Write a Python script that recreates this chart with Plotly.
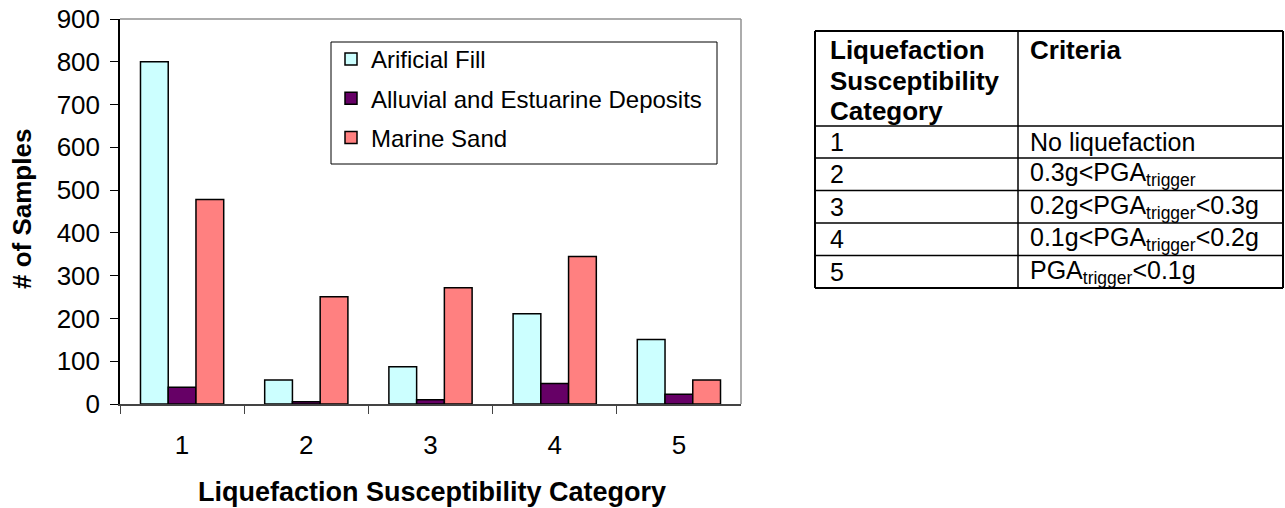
import plotly.graph_objects as go

# Sample counts per liquefaction susceptibility category
categories = ["1", "2", "3", "4", "5"]
artificial_fill = [800, 56, 87, 211, 151]
alluvial_estuarine = [39, 5, 10, 48, 23]
marine_sand = [478, 251, 272, 345, 56]

series_names = ["Arificial Fill", "Alluvial and Estuarine Deposits", "Marine Sand"]
series_colors = ["#CCFFFF", "#660066", "#FF8080"]

y_ticks = list(range(0, 1000, 100))

# Criteria table
table_header = [["Liquefaction", "Susceptibility", "Category"], ["Criteria"]]
table_category = ["1", "2", "3", "4", "5"]
table_criteria = [
    "No liquefaction",
    "0.3g&lt;PGA<sub>trigger</sub>",
    "0.2g&lt;PGA<sub>trigger</sub>&lt;0.3g",
    "0.1g&lt;PGA<sub>trigger</sub>&lt;0.2g",
    "PGA<sub>trigger</sub>&lt;0.1g",
]

W, H = 1285, 508
FONT = "Liberation Sans, Arial, sans-serif"


def px(x):
    return x / W


def py(y):
    return 1 - y / H


fig = go.Figure()
for name, vals, col in zip(series_names, [artificial_fill, alluvial_estuarine, marine_sand], series_colors):
    fig.add_trace(go.Bar(
        x=categories, y=vals, name=name, legendgroup=name,
        marker=dict(color=col, line=dict(color="black", width=1.5)),
    ))

x0, x1 = px(120), px(741)
y0, y1 = py(404), py(19)

shapes = [
    # grey frame on the open sides of the plot area
    dict(type="line", xref="paper", yref="paper", x0=x0, x1=x1, y0=y1, y1=y1,
         line=dict(color="#909090", width=1.5)),
    dict(type="line", xref="paper", yref="paper", x0=x1, x1=x1, y0=y0, y1=y1,
         line=dict(color="#909090", width=1.5)),
    # legend frame
    dict(type="rect", xref="paper", yref="paper", x0=px(331), x1=px(717), y0=py(164), y1=py(42),
         line=dict(color="black", width=1), fillcolor="white", layer="below"),
]
annotations = [
    dict(text="<b>Liquefaction Susceptibility Category</b>", xref="paper", yref="paper",
         x=px(432), y=py(492), xanchor="center", yanchor="middle",
         showarrow=False, font=dict(size=27)),
    dict(text="<b># of Samples</b>", xref="paper", yref="paper",
         x=px(22), y=py(209), xanchor="center", yanchor="middle",
         textangle=-90, showarrow=False, font=dict(size=26)),
]

# Table grid
col_edges = [815, 1018, 1283]
row_edges = [31, 126, 158, 190.5, 223, 255.5, 288]
for i, xe in enumerate(col_edges):
    w = 2 if i in (0, len(col_edges) - 1) else 1.5
    shapes.append(dict(type="line", xref="paper", yref="paper",
                       x0=px(xe), x1=px(xe), y0=py(row_edges[0]), y1=py(row_edges[-1]),
                       line=dict(color="black", width=w)))
for i, ye in enumerate(row_edges):
    w = 2 if i in (0, len(row_edges) - 1) else 1.5
    shapes.append(dict(type="line", xref="paper", yref="paper",
                       x0=px(col_edges[0]), x1=px(col_edges[-1]), y0=py(ye), y1=py(ye),
                       line=dict(color="black", width=w)))

# Table text
text_left = [828, 1028]
header_line_y = [50, 81, 111]
for c, lines in enumerate(table_header):
    for k, line in enumerate(lines):
        annotations.append(dict(text=f"<b>{line}</b>", xref="paper", yref="paper",
                                x=px(text_left[c]), y=py(header_line_y[k]),
                                xanchor="left", yanchor="middle", showarrow=False,
                                font=dict(size=26)))
for r in range(len(table_category)):
    yc = (row_edges[r + 1] + row_edges[r + 2]) / 2
    for c, val in enumerate([table_category[r], table_criteria[r]]):
        annotations.append(dict(text=val, xref="paper", yref="paper",
                                x=px(text_left[c]), y=py(yc),
                                xanchor="left", yanchor="middle", showarrow=False,
                                font=dict(size=25)))

fig.update_layout(
    width=W, height=H,
    margin=dict(l=0, r=0, t=0, b=0),
    paper_bgcolor="white", plot_bgcolor="white",
    font=dict(family=FONT, color="black"),
    barmode="group", bargap=0.33, bargroupgap=0,
    showlegend=True,
    legend=dict(
        x=px(331), y=py(37), xanchor="left", yanchor="top",
        borderwidth=0, bgcolor="rgba(0,0,0,0)",
        font=dict(family=FONT, size=24, color="black"),
        traceorder="grouped", tracegroupgap=5,
    ),
    xaxis=dict(
        domain=[x0, x1], type="category", automargin=False,
        showline=True, linecolor="#444", linewidth=1.5,
        ticks="outside", tickson="boundaries", ticklen=8, tickcolor="#444",
        tickfont=dict(size=26), ticklabelstandoff=17,
        showgrid=False, zeroline=False,
    ),
    yaxis=dict(
        domain=[y0, y1], range=[0, 900], automargin=False,
        tickvals=y_ticks,
        showline=True, linecolor="black", linewidth=1.5,
        ticks="outside", ticklen=8, tickcolor="black",
        tickfont=dict(size=26), ticklabelstandoff=5,
        showgrid=False, zeroline=False,
    ),
    shapes=shapes,
    annotations=annotations,
)

fig.write_html("out.html")
